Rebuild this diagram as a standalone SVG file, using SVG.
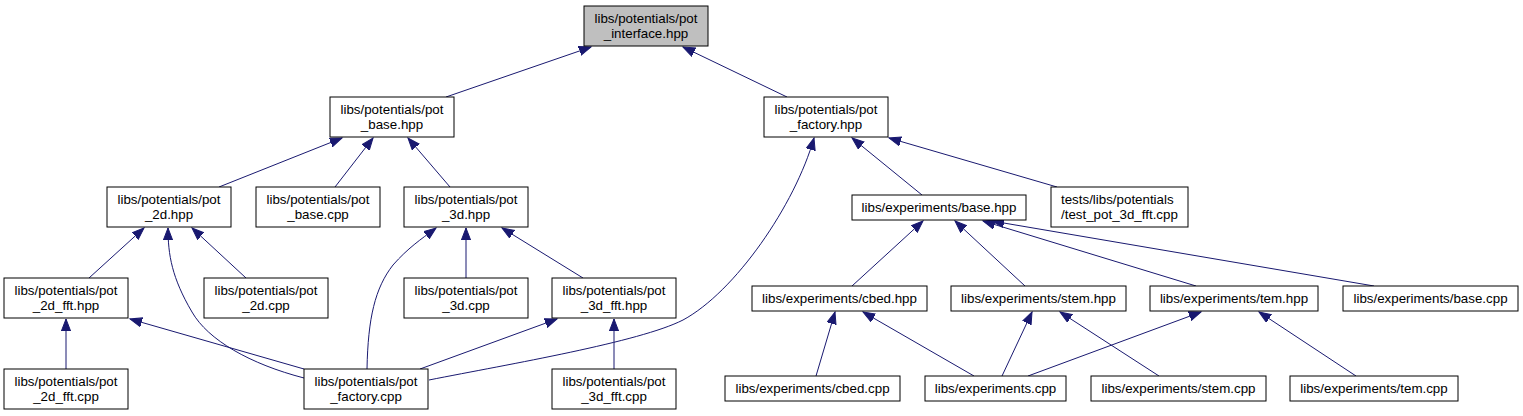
<svg xmlns="http://www.w3.org/2000/svg" width="1523" height="416" viewBox="0 0 1523 416">
<defs>
<style>
.n rect{fill:#ffffff;stroke:#000000;stroke-width:1}
.root rect{fill:#bfbfbf}
text{font-family:"Liberation Sans",Arial,sans-serif;font-size:13.33px;fill:#000000;text-anchor:middle}
.l{text-anchor:start}
.e path{fill:none;stroke:#191970;stroke-width:1;marker-end:url(#a)}
</style>
<marker id="a" markerUnits="userSpaceOnUse" markerWidth="14" markerHeight="12" refX="12" refY="5" orient="auto">
<polygon points="0,0.4 12,5 0,9.6" fill="#191970" stroke="#191970" stroke-width="1"/>
</marker>
</defs>
<rect width="1523" height="416" fill="#ffffff"/>
<g class="e" id="edges">
<path d="M446,97 L591,47"/>
<path d="M787,97 L683,47"/>
<path d="M219,187 L342,138"/>
<path d="M335,187 L373,138"/>
<path d="M450,187 L408,138"/>
<path d="M922,195 L852,138"/>
<path d="M1057,187 L889,138"/>
<path d="M429,380 C510,364 640,342 683,320 C735,292 795,205 814,138"/>
<path d="M89,278 L144,228"/>
<path d="M246,278 L192,228"/>
<path d="M304,378 C250,364 208,340 192,312 C172,278 168,255 168,228"/>
<path d="M367,369 C368,318 375,288 393,265 C408,248 420,240 436,228"/>
<path d="M466,278 L466,228"/>
<path d="M583,278 L502,228"/>
<path d="M304,369 L130,319"/>
<path d="M420,369 L557,319"/>
<path d="M66,369 L66,319"/>
<path d="M614,369 L614,319"/>
<path d="M852,286 L923,221"/>
<path d="M1025,286 L955,221"/>
<path d="M1196,286 L983,221"/>
<path d="M1374,286 L992,221"/>
<path d="M816,376 L835,312"/>
<path d="M974,376 L863,312"/>
<path d="M1002,376 L1032,312"/>
<path d="M1159,376 L1060,312"/>
<path d="M1028,376 L1201,312"/>
<path d="M1356,376 L1259,312"/>
</g>
<g class="n root" id="pot_interface_hpp"><rect x="584" y="6" width="124" height="40"/><text x="646" y="22.5">libs/potentials/pot</text><text x="646" y="37.5">_interface.hpp</text></g>
<g class="n" id="pot_base_hpp"><rect x="330" y="97" width="124" height="40"/><text x="392" y="113.5">libs/potentials/pot</text><text x="392" y="128.5">_base.hpp</text></g>
<g class="n" id="pot_factory_hpp"><rect x="764" y="97" width="124" height="40"/><text x="826" y="113.5">libs/potentials/pot</text><text x="826" y="128.5">_factory.hpp</text></g>
<g class="n" id="pot_2d_hpp"><rect x="107" y="187" width="124" height="40"/><text x="169" y="203.5">libs/potentials/pot</text><text x="169" y="218.5">_2d.hpp</text></g>
<g class="n" id="pot_base_cpp"><rect x="256" y="187" width="124" height="40"/><text x="318" y="203.5">libs/potentials/pot</text><text x="318" y="218.5">_base.cpp</text></g>
<g class="n" id="pot_3d_hpp"><rect x="404" y="187" width="124" height="40"/><text x="466" y="203.5">libs/potentials/pot</text><text x="466" y="218.5">_3d.hpp</text></g>
<g class="n" id="exp_base_hpp"><rect x="852" y="195" width="174" height="25"/><text x="939" y="212">libs/experiments/base.hpp</text></g>
<g class="n" id="test_pot_3d_fft_cpp"><rect x="1051" y="187" width="137" height="40"/><text class="l" x="1061" y="203.5">tests/libs/potentials</text><text class="l" x="1061" y="218.5">/test_pot_3d_fft.cpp</text></g>
<g class="n" id="pot_2d_fft_hpp"><rect x="4" y="278" width="124" height="40"/><text x="66" y="294.5">libs/potentials/pot</text><text x="66" y="309.5">_2d_fft.hpp</text></g>
<g class="n" id="pot_2d_cpp"><rect x="204" y="278" width="124" height="40"/><text x="266" y="294.5">libs/potentials/pot</text><text x="266" y="309.5">_2d.cpp</text></g>
<g class="n" id="pot_3d_cpp"><rect x="404" y="278" width="124" height="40"/><text x="466" y="294.5">libs/potentials/pot</text><text x="466" y="309.5">_3d.cpp</text></g>
<g class="n" id="pot_3d_fft_hpp"><rect x="552" y="278" width="124" height="40"/><text x="614" y="294.5">libs/potentials/pot</text><text x="614" y="309.5">_3d_fft.hpp</text></g>
<g class="n" id="cbed_hpp"><rect x="752" y="286" width="175" height="25"/><text x="839.5" y="303">libs/experiments/cbed.hpp</text></g>
<g class="n" id="stem_hpp"><rect x="951" y="286" width="175" height="25"/><text x="1038.5" y="303">libs/experiments/stem.hpp</text></g>
<g class="n" id="tem_hpp"><rect x="1150" y="286" width="168" height="25"/><text x="1234" y="303">libs/experiments/tem.hpp</text></g>
<g class="n" id="exp_base_cpp"><rect x="1343" y="286" width="175" height="25"/><text x="1430.5" y="303">libs/experiments/base.cpp</text></g>
<g class="n" id="pot_2d_fft_cpp"><rect x="4" y="369" width="124" height="40"/><text x="66" y="385.5">libs/potentials/pot</text><text x="66" y="400.5">_2d_fft.cpp</text></g>
<g class="n" id="pot_factory_cpp"><rect x="304" y="369" width="124" height="40"/><text x="366" y="385.5">libs/potentials/pot</text><text x="366" y="400.5">_factory.cpp</text></g>
<g class="n" id="pot_3d_fft_cpp"><rect x="552" y="369" width="124" height="40"/><text x="614" y="385.5">libs/potentials/pot</text><text x="614" y="400.5">_3d_fft.cpp</text></g>
<g class="n" id="cbed_cpp"><rect x="725" y="376" width="175" height="25"/><text x="812.5" y="393">libs/experiments/cbed.cpp</text></g>
<g class="n" id="experiments_cpp"><rect x="925" y="376" width="141" height="25"/><text x="995.5" y="393">libs/experiments.cpp</text></g>
<g class="n" id="stem_cpp"><rect x="1091" y="376" width="175" height="25"/><text x="1178.5" y="393">libs/experiments/stem.cpp</text></g>
<g class="n" id="tem_cpp"><rect x="1290" y="376" width="168" height="25"/><text x="1374" y="393">libs/experiments/tem.cpp</text></g>
</svg>
